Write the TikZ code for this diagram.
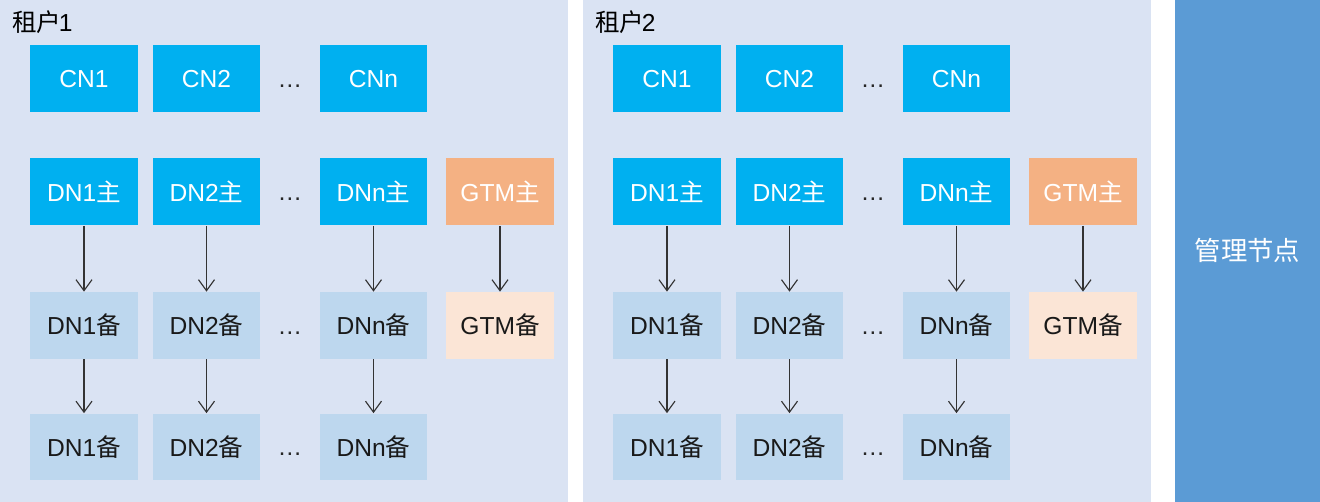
\documentclass[tikz,border=0pt]{standalone}
\usepackage{fontspec}
\setmainfont{Liberation Sans}
\newfontfamily\cjk{Noto Sans CJK SC}
\usetikzlibrary{arrows.meta}

\definecolor{panelbg}{HTML}{DAE3F3}
\definecolor{nodeblue}{HTML}{00B0F0}
\definecolor{backblue}{HTML}{BDD7EE}
\definecolor{gtmorange}{HTML}{F4B183}
\definecolor{gtmpeach}{HTML}{FBE5D6}
\definecolor{mgmtblue}{HTML}{5B9BD5}

\tikzset{
  box/.style={minimum width=2.16cm, minimum height=1.34cm, inner sep=0pt, font=\fontsize{14}{16}\selectfont},
  pri/.style={box, fill=nodeblue, text=white},
  sec/.style={box, fill=backblue, text=black!90},
  gtmpri/.style={box, fill=gtmorange, text=white},
  gtmsec/.style={box, fill=gtmpeach, text=black!90},
  gap/.style={anchor=base, inner sep=0pt, font=\fontsize{14}{16}\selectfont, text=black!85},
  link/.style={-{Straight Barb[length=2.2mm,width=3.2mm]}, draw=black!80, line width=0.65pt}
}

\begin{document}
\begin{tikzpicture}[x=0.02cm, y=-0.02cm]
  \useasboundingbox (0,0) rectangle (1320,502);
  \fill[white] (0,0) rectangle (1320,502);
  % one panel per tenant
  \foreach \t/\dx in {1/0, 2/583} {
    \begin{scope}[shift={(\dx,0)}]
      \fill[panelbg] (0,0) rectangle (568,502);
      \node[anchor=west, inner sep=0pt, font=\fontsize{14}{16}\selectfont] (tenant\t) at (12,22) {{\cjk 租户}\kern-1.5pt\t};
      % coordinator nodes
      \node[pri] (cn1-\t) at (84,79) {CN1};
      \node[pri] (cn2-\t) at (206.5,79) {CN2};
      \node[gap] (cngap-\t) at (290,88) {…};
      \node[pri] (cnn-\t) at (373.5,79) {CNn};
      % primary data nodes
      \node[pri] (dn1-\t) at (84,192) {DN1{\cjk 主}};
      \node[pri] (dn2-\t) at (206.5,192) {DN2{\cjk 主}};
      \node[gap] (dngap-\t) at (290,201) {…};
      \node[pri] (dnn-\t) at (373.5,192) {DNn{\cjk 主}};
      \node[gtmpri] (gtm-\t) at (500,192) {GTM{\cjk 主}};
      % first standby row
      \node[sec] (sa1-\t) at (84,325.5) {DN1{\cjk 备}};
      \node[sec] (sa2-\t) at (206.5,325.5) {DN2{\cjk 备}};
      \node[gap] (sagap-\t) at (290,334.5) {…};
      \node[sec] (san-\t) at (373.5,325.5) {DNn{\cjk 备}};
      \node[gtmsec] (gtmb-\t) at (500,325.5) {GTM{\cjk 备}};
      % second standby row
      \node[sec] (sb1-\t) at (84,447) {DN1{\cjk 备}};
      \node[sec] (sb2-\t) at (206.5,447) {DN2{\cjk 备}};
      \node[gap] (sbgap-\t) at (290,456) {…};
      \node[sec] (sbn-\t) at (373.5,447) {DNn{\cjk 备}};
      % replication
      \draw[link] (dn1-\t) -- (sa1-\t);
      \draw[link] (dn2-\t) -- (sa2-\t);
      \draw[link] (dnn-\t) -- (san-\t);
      \draw[link] (gtm-\t) -- (gtmb-\t);
      \draw[link] (sa1-\t) -- (sb1-\t);
      \draw[link] (sa2-\t) -- (sb2-\t);
      \draw[link] (san-\t) -- (sbn-\t);
    \end{scope}
  }
  % management node
  \node[fill=mgmtblue, minimum width=2.9cm, minimum height=10.04cm, inner sep=0pt, anchor=north west] (mgmt) at (1175,0) {};
  \node[text=white, font=\cjk\fontsize{15}{17}\selectfont] (mgmtlabel) at (1247.5,250) {管理节点};
\end{tikzpicture}
\end{document}
